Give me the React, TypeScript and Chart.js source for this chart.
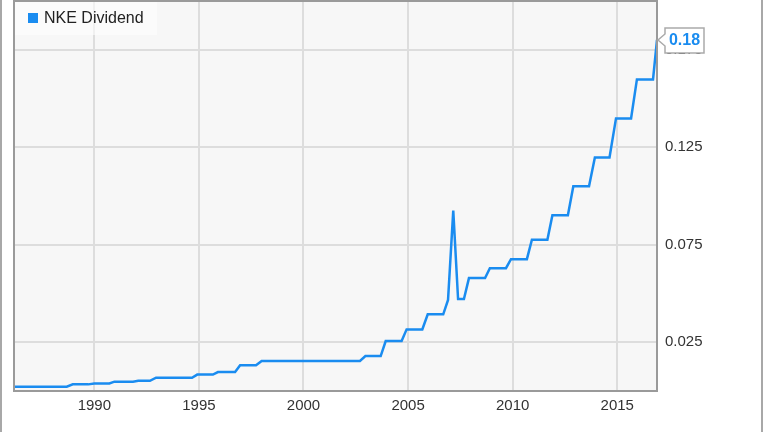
import React, { useEffect, useRef } from 'react';
import { Chart, registerables } from 'chart.js';

Chart.register(...registerables);

const seriesLabel = 'NKE Dividend';
const lastValueLabel = '0.18';

const years = [
  1986.16, 1988.68, 1988.97, 1989.71, 1990.0, 1990.72, 1990.96, 1991.85, 1992.1,
  1992.66, 1992.95, 1994.67, 1994.92, 1995.67, 1995.91, 1996.73, 1996.97, 1997.73,
  1998.0, 2002.7, 2002.96, 2003.69, 2003.93, 2004.69, 2004.93, 2005.68, 2005.94,
  2006.68, 2006.91, 2007.16, 2007.39, 2007.67, 2007.91, 2008.68, 2008.91, 2009.68,
  2009.92, 2010.68, 2010.92, 2011.66, 2011.9, 2012.64, 2012.9, 2013.65, 2013.93,
  2014.63, 2014.94, 2015.66, 2015.94, 2016.71, 2016.9,
];

const dividends = [
  0.0022, 0.0022, 0.0034, 0.0034, 0.0039, 0.0039, 0.0048, 0.0048, 0.0052,
  0.0052, 0.0068, 0.0068, 0.0084, 0.0084, 0.0097, 0.0097, 0.0132, 0.0132,
  0.0154, 0.0154, 0.0179, 0.0179, 0.0256, 0.0256, 0.0316, 0.0316, 0.0393,
  0.0393, 0.0467, 0.0925, 0.0472, 0.0472, 0.0579, 0.0579, 0.063, 0.063,
  0.0676, 0.0676, 0.0776, 0.0776, 0.0901, 0.0901, 0.105, 0.105, 0.1198,
  0.1198, 0.1398, 0.1398, 0.1598, 0.1598, 0.18,
];

const yTickValues = [0.025, 0.075, 0.125, 0.175];
const xTickValues = [1990, 1995, 2000, 2005, 2010, 2015];

const LINE_COLOR = '#1a8cf0';
const FONT = '"Liberation Sans", Arial, sans-serif';

export default function App() {
  const ref = useRef<HTMLCanvasElement>(null);

  useEffect(() => {
    const canvas = ref.current;
    if (!canvas) return;

    const deco = {
      id: 'deco',
      beforeDraw(chart: any) {
        const { ctx, chartArea: a } = chart;
        ctx.save();
        ctx.fillStyle = '#f7f7f7';
        ctx.fillRect(a.left, a.top, a.right - a.left, a.bottom - a.top);
        ctx.restore();
      },
      afterDraw(chart: any) {
        const { ctx, chartArea: a, width, height } = chart;
        ctx.save();
        // outer frame lines
        ctx.strokeStyle = '#a8a8a8';
        ctx.lineWidth = 2;
        ctx.beginPath();
        ctx.moveTo(1, 0);
        ctx.lineTo(1, height);
        ctx.moveTo(width - 2, 0);
        ctx.lineTo(width - 2, height);
        ctx.stroke();
        // plot border
        ctx.strokeStyle = '#9a9a9a';
        ctx.lineWidth = 2;
        ctx.strokeRect(a.left, a.top, a.right - a.left, a.bottom - a.top);

        // legend box
        ctx.fillStyle = 'rgba(255,255,255,0.55)';
        ctx.fillRect(a.left + 1, a.top + 1, 142, 33);
        ctx.fillStyle = LINE_COLOR;
        ctx.fillRect(a.left + 14, a.top + 12, 10, 10);
        ctx.fillStyle = '#222';
        ctx.font = `16px ${FONT}`;
        ctx.textBaseline = 'middle';
        ctx.textAlign = 'left';
        ctx.fillText(seriesLabel, a.left + 30, a.top + 18);

        // last value callout
        const meta = chart.getDatasetMeta(0);
        const pt = meta.data[meta.data.length - 1];
        const px = pt.x;
        const py = pt.y;
        const bx = px + 8;
        const bw = 39;
        const bh = 25;
        const by = py - 12;
        ctx.beginPath();
        ctx.moveTo(bx, by);
        ctx.lineTo(bx + bw, by);
        ctx.lineTo(bx + bw, by + bh);
        ctx.lineTo(bx, by + bh);
        ctx.lineTo(bx, py + 6);
        ctx.lineTo(px + 1, py);
        ctx.lineTo(bx, py - 6);
        ctx.closePath();
        ctx.fillStyle = '#ffffff';
        ctx.fill();
        ctx.strokeStyle = '#aaaaaa';
        ctx.lineWidth = 1.5;
        ctx.stroke();
        ctx.fillStyle = LINE_COLOR;
        ctx.font = `bold 16px ${FONT}`;
        ctx.textAlign = 'center';
        ctx.textBaseline = 'middle';
        ctx.fillText(lastValueLabel, bx + bw / 2, py + 1);
        ctx.restore();
      },
    };

    const chart = new Chart(canvas, {
      type: 'line',
      data: {
        datasets: [
          {
            label: seriesLabel,
            data: years.map((x, i) => ({ x, y: dividends[i] })),
            borderColor: LINE_COLOR,
            borderWidth: 2.5,
            pointRadius: 0,
            tension: 0,
            fill: false,
          },
        ],
      },
      options: {
        animation: false,
        responsive: false,
        layout: { padding: { left: 14, top: 1, right: 0, bottom: 0 } },
        plugins: { legend: { display: false }, tooltip: { enabled: false } },
        scales: {
          x: {
            type: 'linear',
            min: 1986.16,
            max: 2016.9,
            afterBuildTicks: (s: any) => {
              s.ticks = xTickValues.map((v) => ({ value: v }));
            },
            afterFit: (s: any) => {
              s.height = 41;
              s.paddingLeft = 0;
              s.paddingRight = 0;
              s.paddingTop = 0;
              s.paddingBottom = 0;
            },
            grid: { color: '#dddddd', lineWidth: 2, drawTicks: false },
            border: { display: false },
            ticks: {
              padding: 6,
              color: '#333',
              font: { family: FONT, size: 15 },
              maxRotation: 0,
              autoSkip: false,
              callback: (v: any) => String(v),
            },
          },
          y: {
            type: 'linear',
            position: 'right',
            min: 0,
            max: 0.2,
            afterBuildTicks: (s: any) => {
              s.ticks = yTickValues.map((v) => ({ value: v }));
            },
            afterFit: (s: any) => {
              s.width = 107;
              s.paddingLeft = 0;
              s.paddingRight = 0;
              s.paddingTop = 0;
              s.paddingBottom = 0;
            },
            grid: { color: '#dddddd', lineWidth: 2, drawTicks: false },
            border: { display: false },
            ticks: {
              padding: 8,
              color: '#333',
              font: { family: FONT, size: 15 },
              autoSkip: false,
              callback: (v: any) => String(v),
            },
          },
        },
      },
      plugins: [deco],
    });

    return () => chart.destroy();
  }, []);

  return (
    <div style={{ position: 'fixed', left: 0, top: 0, width: 764, height: 432, background: '#fff' }}>
      <canvas ref={ref} width={764} height={432} style={{ width: 764, height: 432, display: 'block' }} />
    </div>
  );
}
